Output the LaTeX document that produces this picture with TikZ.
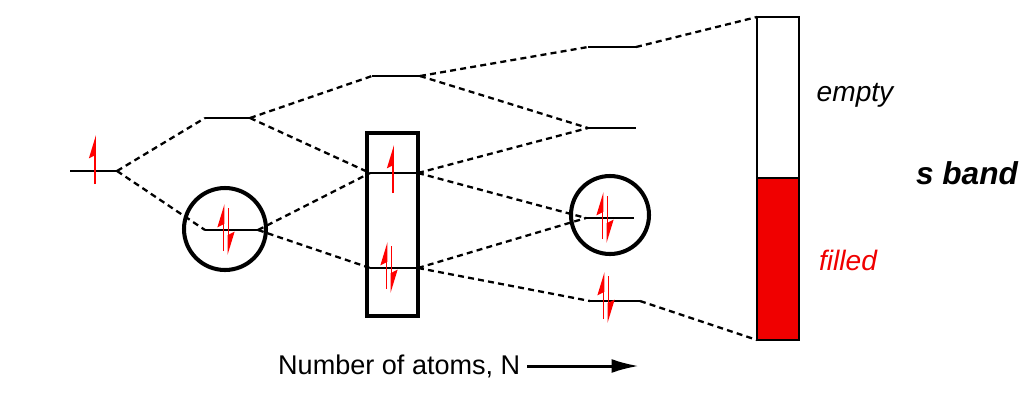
\documentclass[tikz,border=0pt]{standalone}
\usepackage{fontspec}
\setmainfont{Liberation Sans}
\usepackage{tikz}
\usetikzlibrary{arrows.meta}
\definecolor{bandred}{RGB}{240,0,0}
\tikzset{
  lvl/.style={line width=1.4pt},
  link/.style={line width=1.3pt,dash pattern=on 3.4pt off 2.4pt},
  ring/.style={line width=2.3pt},
  spin/.style={red,line width=1.1pt,-{Stealth[left,length=4mm,width=2.4mm,inset=0.6mm]}},
  lbl/.style={font=\fontsize{16}{18}\selectfont\itshape}
}
% level line with end coordinates #1l and #1r
\newcommand{\mlevel}[4]{%
  \coordinate (#1l) at (#2,#4); \coordinate (#1r) at (#3,#4);
  \draw[lvl] (#1l) -- (#1r);}
% one electron: x, lower end, upper end
\newcommand{\mup}[3]{\draw[spin] (#1,#2) -- (#1,#3);}
% electron pair: x, centre
\newcommand{\mpair}[2]{%
  \draw[spin] ({#1-2.5},{#2+22}) -- ({#1-2.5},{#2-25});
  \draw[spin] ({#1+2.5},{#2-21}) -- ({#1+2.5},{#2+26});}

\begin{document}
\begin{tikzpicture}[x=0.02cm,y=-0.02cm]
  \useasboundingbox (0,0) rectangle (1036,400);
  % atom and small clusters
  \mlevel{a}{70}{117}{171}
  \mlevel{b1}{205}{250}{118}
  \mlevel{b2}{205}{258}{230}
  \mlevel{c1}{372}{420}{76}
  \mlevel{c2}{370}{418}{173}
  \mlevel{c3}{370}{418}{268}
  \mlevel{d1}{588}{636}{47}
  \mlevel{d2}{588}{636}{128}
  \mlevel{d3}{586}{634}{218}
  \mlevel{d4}{590}{640}{301}
  \draw[ring] (225,229) circle (41);
  \draw[ring] (610,215) circle (39);
  \draw[ring] (367,133) rectangle (418,316);
  % band
  \coordinate (top) at (757,17);
  \coordinate (bot) at (757,340);
  \fill[bandred] (757,178) rectangle (799,340);
  \draw[lvl] (757,17) rectangle (799,340);
  \draw[lvl] (757,178) -- (799,178);
  % correlation lines
  \draw[link] (ar) -- (b1l);
  \draw[link] (ar) -- (b2l);
  \draw[link] (b1r) -- (c1l);
  \draw[link] (b1r) -- (c2l);
  \draw[link] (b2r) -- (c2l);
  \draw[link] (b2r) -- (c3l);
  \draw[link] (c1r) -- (d1l);
  \draw[link] (c1r) -- (d2l);
  \draw[link] (c2r) -- (d2l);
  \draw[link] (c2r) -- (d3l);
  \draw[link] (c3r) -- (d3l);
  \draw[link] (c3r) -- (d4l);
  \draw[link] (d1r) -- (top);
  \draw[link] (d4r) -- (bot);
  % electrons
  \mup{95}{184}{135}
  \mpair{226}{229}
  \mup{393}{193}{145}
  \mpair{389}{267}
  \mpair{605}{217}
  \mpair{606}{297}
  % labels
  \node[lbl] (empty) at (855,95) {empty};
  \node[lbl,text=bandred] (filled) at (848,260) {filled};
  \node[font=\fontsize{18}{20}\selectfont\bfseries\itshape] (sband) at (967,173) {s band};
  \node[font=\fontsize{15.4}{18}\selectfont,anchor=west] (natoms) at (272,366) {Number of atoms, N};
  \coordinate (arrs) at (527,366);
  \coordinate (arre) at (639,366);
  \draw[line width=1.7pt,-{Latex[length=5.5mm,width=2.8mm]}] (arrs) -- (arre);
\end{tikzpicture}
\end{document}
